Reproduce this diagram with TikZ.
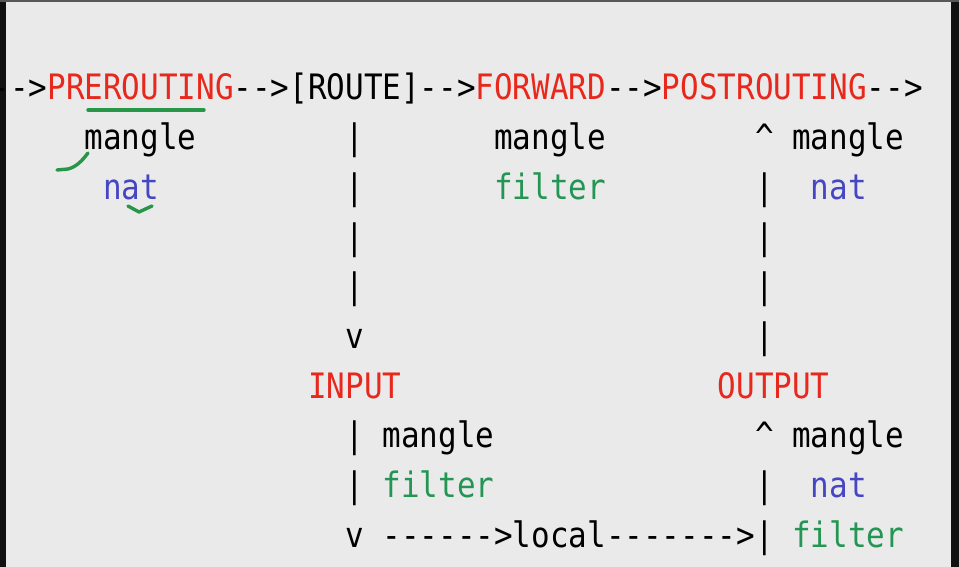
\documentclass[tikz,border=0pt]{standalone}
\usepackage{fontspec}
\newfontfamily\monofont{DejaVu Sans Mono}[FakeStretch=0.884]
\definecolor{screen}{RGB}{234,234,234}
\definecolor{edge}{RGB}{16,16,16}
\definecolor{hookred}{RGB}{232,40,28}
\definecolor{tblblue}{RGB}{70,70,196}
\definecolor{tblgreen}{RGB}{36,150,84}
\definecolor{pen}{RGB}{40,150,72}
\begin{document}
\begin{tikzpicture}[x=1pt,y=-1pt,
  txt/.style={anchor=base west,inner sep=0pt,text=black,font=\monofont\fontsize{35}{40}\selectfont},
  hook/.style={txt,text=hookred},
  natt/.style={txt,text=tblblue},
  filt/.style={txt,text=tblgreen},
  scribble/.style={pen,line width=3.4pt,line cap=round,line join=round}]
\useasboundingbox (0,0) rectangle (959,567);
\fill[screen] (0,0) rectangle (959,567);
\fill[edge] (0,0) rectangle (6,567);
\fill[edge] (951,0) rectangle (959,567);
\fill[edge!70] (0,0) rectangle (959,2);
\begin{scope}[shift={(-8.6,50.33)},x=18.62pt,y=-49.67pt]
\node[txt] (in) at (0,1) {-->};
\node[hook] (pre) at (3,1) {PREROUTING};
\node[txt] (a1) at (13,1) {-->};
\node[txt] (route) at (16,1) {[ROUTE]};
\node[txt] (a2) at (23,1) {-->};
\node[hook] (fwd) at (26,1) {FORWARD};
\node[txt] (a3) at (33,1) {-->};
\node[hook] (post) at (36,1) {POSTROUTING};
\node[txt] (out) at (47,1) {-->};
\node[txt] (premangle) at (5,2) {mangle};
\node[natt] (prenat) at (6,3) {nat};
\node[txt] (fwdmangle) at (27,2) {mangle};
\node[filt] (fwdfilter) at (27,3) {filter};
\node[txt] (postup) at (41,2) {\textasciicircum};
\node[txt] (postmangle) at (43,2) {mangle};
\node[natt] (postnat) at (44,3) {nat};
\foreach \r in {2,...,5} \node[txt] (rbar\r) at (19,\r) {|};
\foreach \r in {3,...,6} \node[txt] (obar\r) at (41,\r) {|};
\node[txt] (rdown) at (19,6) {v};
\node[hook] (input) at (17,7) {INPUT};
\node[hook] (output) at (39,7) {OUTPUT};
\node[txt] (ibar8) at (19,8) {|};
\node[txt] (inmangle) at (21,8) {mangle};
\node[txt] (ibar9) at (19,9) {|};
\node[filt] (infilter) at (21,9) {filter};
\node[txt] (idown) at (19,10) {v};
\node[txt] (tolocal) at (21,10) {------>};
\node[txt] (local) at (28,10) {local};
\node[txt] (fromlocal) at (33,10) {------->};
\node[txt] (oup) at (41,8) {\textasciicircum};
\node[txt] (outmangle) at (43,8) {mangle};
\node[txt] (obar9) at (41,9) {|};
\node[natt] (outnat) at (44,9) {nat};
\node[txt] (obar10) at (41,10) {|};
\node[filt] (outfilter) at (43,10) {filter};
\end{scope}
\draw[scribble] (88,110) -- (204,110);
\draw[scribble] (57,170) -- (68,169) .. controls (76,167) and (82,161) .. (88,153);
\draw[scribble] (128,206) -- (139,212) -- (152,206);
\end{tikzpicture}
\end{document}
